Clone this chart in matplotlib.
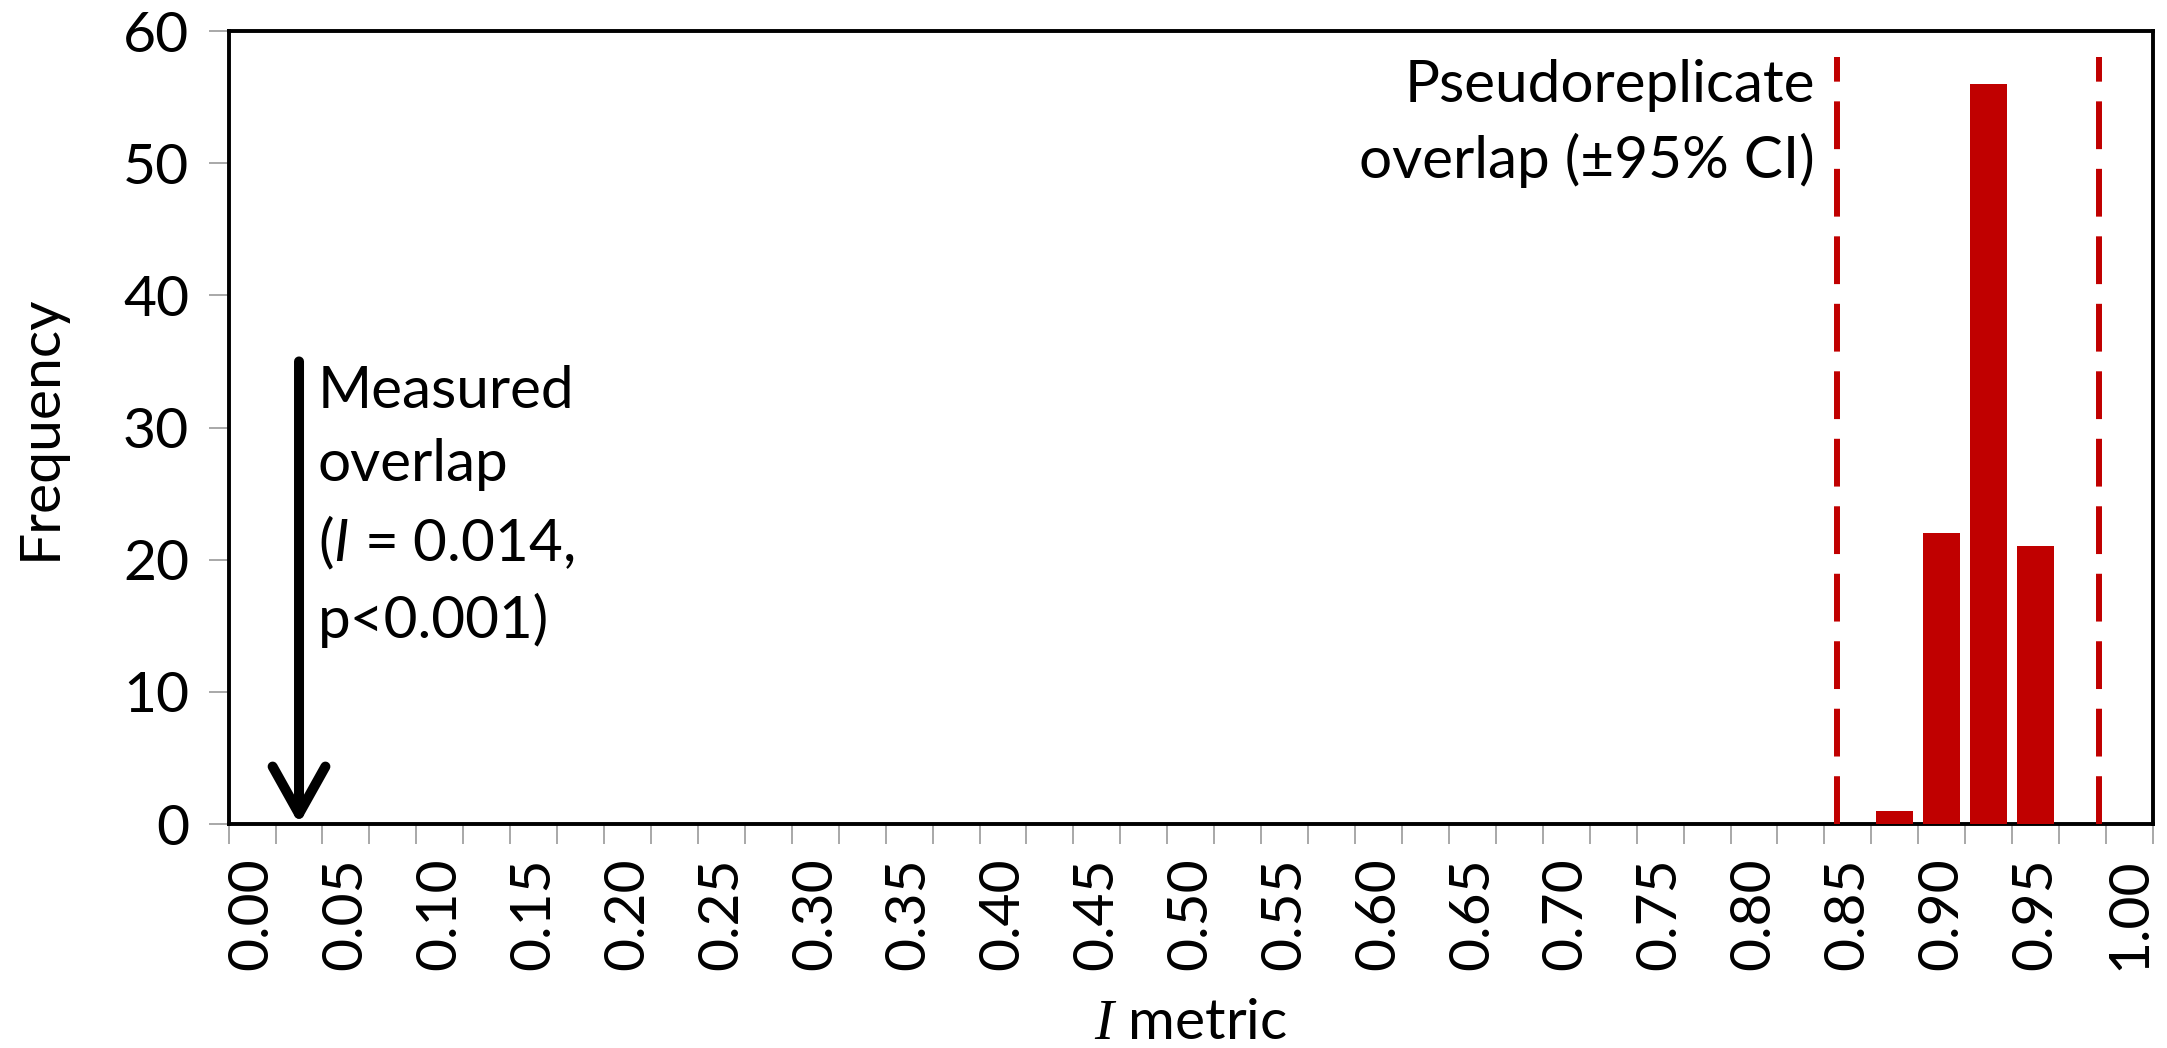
import numpy as np
import matplotlib.pyplot as plt

# -------------------------------------------------------------------
# Histogram of pseudoreplicate overlap (I metric) - binned counts
# -------------------------------------------------------------------
bin_width = 0.025
bin_centers = np.round(np.arange(0, 1.0 + bin_width / 2, bin_width), 3)  # 41 categories
label_values = bin_centers[::2]                                          # 0.00, 0.05, ... 1.00
bar_bins = [0.875, 0.900, 0.925, 0.950]
bar_counts = [1, 22, 56, 21]

ci_bounds = [0.844, 0.984]   # pseudoreplicate overlap 95% CI
ci_top = 58

measured_I = 0.014
arrow_top = 35

red = "#C00000"

plt.rcParams["font.family"] = ["Lato", "DejaVu Sans"]
plt.rcParams["mathtext.fontset"] = "custom"
plt.rcParams["mathtext.it"] = "Lato:italic"
plt.rcParams["mathtext.sf"] = "Liberation Serif:italic"

fig = plt.figure(figsize=(21.67, 10.48), dpi=100)
ax = fig.add_axes([0.1055, 0.2137, 0.888, 0.7567])

# bars
ax.bar(bar_bins, bar_counts, width=bin_width * 0.79, color=red, zorder=3)

# CI lines
for xv in ci_bounds:
    ax.plot([xv, xv], [0, ci_top], color=red, lw=4.3, dashes=(8, 3.3), zorder=4)

# measured overlap arrow (placed in its histogram bin)
arrow_x = np.ceil(measured_I / bin_width) * bin_width
ax.annotate("", xy=(arrow_x, 0), xytext=(arrow_x, arrow_top),
            arrowprops=dict(arrowstyle="->, head_length=0.34, head_width=0.19",
                            mutation_scale=100, lw=7.2, color="black",
                            shrinkA=0, shrinkB=0, capstyle="round"),
            zorder=5)

ax.text(0.0464, 0.579, "Measured\noverlap\n($\\mathit{I}$ = 0.014,\np<0.001)",
        transform=ax.transAxes, ha="left", va="top", fontsize=42, linespacing=1.47)
ax.text(0.8243, 0.965, "Pseudoreplicate\noverlap (\u00b195% CI)",
        transform=ax.transAxes, ha="right", va="top", fontsize=42,
        linespacing=1.47, multialignment="right")

# axes
ax.set_xlim(-bin_width / 2, 1 + bin_width / 2)
ax.set_ylim(0, 60)
ax.set_yticks(np.arange(0, 61, 10))
ax.set_xticks(label_values)
ax.set_xticklabels([f"{v:.2f}" for v in label_values], rotation=90)
ax.set_xticks(np.arange(-bin_width / 2, 1 + bin_width, bin_width), minor=True)

ax.tick_params(axis="x", which="major", length=0, pad=24, labelsize=41)
ax.tick_params(axis="x", which="minor", length=14.4, width=1.2, color="#999999", direction="out")
ax.tick_params(axis="y", which="major", length=14.4, width=1.2, color="#999999",
               direction="out", pad=14, labelsize=41)

for s in ax.spines.values():
    s.set_linewidth(2.8)
    s.set_color("black")

ax.set_ylabel("Frequency", fontsize=41, labelpad=41)
ax.set_xlabel("$\\mathsf{I}$ metric", fontsize=41, labelpad=20)

fig.savefig("out.png", dpi=100)
